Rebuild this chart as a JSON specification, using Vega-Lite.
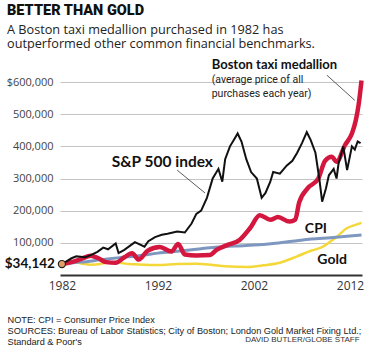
{
  "$schema": "https://vega.github.io/schema/vega-lite/v6.json",
  "width": 302,
  "height": 193,
  "autosize": {"type": "none"},
  "padding": {"left": 60, "top": 82, "right": 9, "bottom": 80},
  "background": "white",
  "config": {"view": {"stroke": null}, "axis": {"labelOverlap": false}},
  "title": {
    "text": "BETTER THAN GOLD",
    "subtitle": ["A Boston taxi medallion purchased in 1982 has", "outperformed other common financial benchmarks."],
    "anchor": "start",
    "frame": "group",
    "dx": -53,
    "offset": 8,
    "font": "Roboto",
    "fontSize": 14.5,
    "fontWeight": 900,
    "color": "#111",
    "subtitleFont": "Open Sans",
    "subtitleFontSize": 12.7,
    "subtitleColor": "#222",
    "subtitlePadding": 5,
    "subtitleLineHeight": 14
  },
  "datasets": {
    "series": [
      {"series": "Gold", "year": 1982, "value": 34142},
      {"series": "Gold", "year": 1983, "value": 42000},
      {"series": "Gold", "year": 1984, "value": 36000},
      {"series": "Gold", "year": 1985, "value": 32000},
      {"series": "Gold", "year": 1986, "value": 34000},
      {"series": "Gold", "year": 1987, "value": 40000},
      {"series": "Gold", "year": 1988, "value": 38000},
      {"series": "Gold", "year": 1989, "value": 34000},
      {"series": "Gold", "year": 1990, "value": 33000},
      {"series": "Gold", "year": 1992, "value": 31000},
      {"series": "Gold", "year": 1994, "value": 34000},
      {"series": "Gold", "year": 1996, "value": 35000},
      {"series": "Gold", "year": 1997.7, "value": 31000},
      {"series": "Gold", "year": 1999, "value": 27000},
      {"series": "Gold", "year": 2001.3, "value": 25000},
      {"series": "Gold", "year": 2003, "value": 30000},
      {"series": "Gold", "year": 2004.7, "value": 38000},
      {"series": "Gold", "year": 2006.5, "value": 58000},
      {"series": "Gold", "year": 2008, "value": 76000},
      {"series": "Gold", "year": 2008.9, "value": 84000},
      {"series": "Gold", "year": 2010, "value": 105000},
      {"series": "Gold", "year": 2010.6, "value": 118000},
      {"series": "Gold", "year": 2011.7, "value": 146000},
      {"series": "Gold", "year": 2012.5, "value": 155000},
      {"series": "Gold", "year": 2013.2, "value": 162000},
      {"series": "CPI", "year": 1982, "value": 34142},
      {"series": "CPI", "year": 1984, "value": 40000},
      {"series": "CPI", "year": 1986, "value": 47000},
      {"series": "CPI", "year": 1988, "value": 54000},
      {"series": "CPI", "year": 1990, "value": 60000},
      {"series": "CPI", "year": 1992, "value": 68000},
      {"series": "CPI", "year": 1994, "value": 74000},
      {"series": "CPI", "year": 1996, "value": 80000},
      {"series": "CPI", "year": 1998, "value": 86000},
      {"series": "CPI", "year": 2000, "value": 90000},
      {"series": "CPI", "year": 2002, "value": 93000},
      {"series": "CPI", "year": 2004, "value": 98000},
      {"series": "CPI", "year": 2006, "value": 105000},
      {"series": "CPI", "year": 2008, "value": 112000},
      {"series": "CPI", "year": 2010, "value": 116000},
      {"series": "CPI", "year": 2012, "value": 121000},
      {"series": "CPI", "year": 2013.2, "value": 124000},
      {"series": "Medallion", "year": 1982, "value": 34142},
      {"series": "Medallion", "year": 1983, "value": 40000},
      {"series": "Medallion", "year": 1984, "value": 50000},
      {"series": "Medallion", "year": 1985, "value": 60000},
      {"series": "Medallion", "year": 1985.8, "value": 52000},
      {"series": "Medallion", "year": 1986.6, "value": 40000},
      {"series": "Medallion", "year": 1987.6, "value": 38000},
      {"series": "Medallion", "year": 1988.5, "value": 55000},
      {"series": "Medallion", "year": 1989.3, "value": 68000},
      {"series": "Medallion", "year": 1990, "value": 48000},
      {"series": "Medallion", "year": 1990.9, "value": 75000},
      {"series": "Medallion", "year": 1992.2, "value": 87000},
      {"series": "Medallion", "year": 1993.4, "value": 73000},
      {"series": "Medallion", "year": 1994.1, "value": 96000},
      {"series": "Medallion", "year": 1994.8, "value": 64000},
      {"series": "Medallion", "year": 1996, "value": 61000},
      {"series": "Medallion", "year": 1997.4, "value": 62000},
      {"series": "Medallion", "year": 1998.1, "value": 78000},
      {"series": "Medallion", "year": 1999.2, "value": 93000},
      {"series": "Medallion", "year": 2000.5, "value": 109000},
      {"series": "Medallion", "year": 2001.6, "value": 146000},
      {"series": "Medallion", "year": 2002.6, "value": 186000},
      {"series": "Medallion", "year": 2003.7, "value": 172000},
      {"series": "Medallion", "year": 2004.5, "value": 180000},
      {"series": "Medallion", "year": 2005.7, "value": 166000},
      {"series": "Medallion", "year": 2006.3, "value": 172000},
      {"series": "Medallion", "year": 2006.7, "value": 225000},
      {"series": "Medallion", "year": 2007.6, "value": 270000},
      {"series": "Medallion", "year": 2008.7, "value": 300000},
      {"series": "Medallion", "year": 2009.4, "value": 355000},
      {"series": "Medallion", "year": 2010.1, "value": 368000},
      {"series": "Medallion", "year": 2010.6, "value": 352000},
      {"series": "Medallion", "year": 2011.5, "value": 405000},
      {"series": "Medallion", "year": 2012.2, "value": 440000},
      {"series": "Medallion", "year": 2012.6, "value": 480000},
      {"series": "Medallion", "year": 2012.9, "value": 530000},
      {"series": "Medallion", "year": 2013.2, "value": 605000},
      {"series": "S&P 500", "year": 1982, "value": 34142},
      {"series": "S&P 500", "year": 1982.6, "value": 45000},
      {"series": "S&P 500", "year": 1983, "value": 52000},
      {"series": "S&P 500", "year": 1983.5, "value": 58000},
      {"series": "S&P 500", "year": 1984.4, "value": 55000},
      {"series": "S&P 500", "year": 1985, "value": 62000},
      {"series": "S&P 500", "year": 1985.7, "value": 72000},
      {"series": "S&P 500", "year": 1986.3, "value": 85000},
      {"series": "S&P 500", "year": 1986.8, "value": 80000},
      {"series": "S&P 500", "year": 1987.6, "value": 98000},
      {"series": "S&P 500", "year": 1987.9, "value": 68000},
      {"series": "S&P 500", "year": 1988.5, "value": 78000},
      {"series": "S&P 500", "year": 1989.6, "value": 102000},
      {"series": "S&P 500", "year": 1990.6, "value": 88000},
      {"series": "S&P 500", "year": 1991, "value": 105000},
      {"series": "S&P 500", "year": 1991.7, "value": 118000},
      {"series": "S&P 500", "year": 1992.4, "value": 125000},
      {"series": "S&P 500", "year": 1993, "value": 128000},
      {"series": "S&P 500", "year": 1994, "value": 135000},
      {"series": "S&P 500", "year": 1994.8, "value": 132000},
      {"series": "S&P 500", "year": 1995.5, "value": 160000},
      {"series": "S&P 500", "year": 1996, "value": 190000},
      {"series": "S&P 500", "year": 1996.5, "value": 200000},
      {"series": "S&P 500", "year": 1997.1, "value": 240000},
      {"series": "S&P 500", "year": 1997.7, "value": 300000},
      {"series": "S&P 500", "year": 1998.3, "value": 330000},
      {"series": "S&P 500", "year": 1998.7, "value": 290000},
      {"series": "S&P 500", "year": 1999, "value": 360000},
      {"series": "S&P 500", "year": 1999.5, "value": 400000},
      {"series": "S&P 500", "year": 1999.9, "value": 420000},
      {"series": "S&P 500", "year": 2000.3, "value": 440000},
      {"series": "S&P 500", "year": 2000.7, "value": 415000},
      {"series": "S&P 500", "year": 2001.2, "value": 360000},
      {"series": "S&P 500", "year": 2001.7, "value": 320000},
      {"series": "S&P 500", "year": 2002.3, "value": 300000},
      {"series": "S&P 500", "year": 2002.8, "value": 240000},
      {"series": "S&P 500", "year": 2003.2, "value": 255000},
      {"series": "S&P 500", "year": 2003.7, "value": 290000},
      {"series": "S&P 500", "year": 2004, "value": 320000},
      {"series": "S&P 500", "year": 2004.7, "value": 315000},
      {"series": "S&P 500", "year": 2005.4, "value": 340000},
      {"series": "S&P 500", "year": 2006, "value": 355000},
      {"series": "S&P 500", "year": 2006.5, "value": 380000},
      {"series": "S&P 500", "year": 2007, "value": 410000},
      {"series": "S&P 500", "year": 2007.5, "value": 444000},
      {"series": "S&P 500", "year": 2007.9, "value": 420000},
      {"series": "S&P 500", "year": 2008.4, "value": 380000},
      {"series": "S&P 500", "year": 2008.8, "value": 300000},
      {"series": "S&P 500", "year": 2009.1, "value": 228000},
      {"series": "S&P 500", "year": 2009.5, "value": 270000},
      {"series": "S&P 500", "year": 2009.8, "value": 310000},
      {"series": "S&P 500", "year": 2010.3, "value": 330000},
      {"series": "S&P 500", "year": 2010.6, "value": 300000},
      {"series": "S&P 500", "year": 2010.8, "value": 345000},
      {"series": "S&P 500", "year": 2011.3, "value": 400000},
      {"series": "S&P 500", "year": 2011.7, "value": 326000},
      {"series": "S&P 500", "year": 2012.2, "value": 400000},
      {"series": "S&P 500", "year": 2012.5, "value": 390000},
      {"series": "S&P 500", "year": 2012.8, "value": 415000},
      {"series": "S&P 500", "year": 2013.1, "value": 410000}
    ],
    "bigLabels": [
      {"label": "S&P 500 index", "year": 1987.2, "value": 351000},
      {"label": "CPI", "year": 2007.3, "value": 143000},
      {"label": "Gold", "year": 2008.6, "value": 47000}
    ],
    "boldLabels": [
      {"label": "Boston taxi medallion", "year": 1997.6, "value": 652000}
    ],
    "noteLabels": [
      {"label": "(average price of all", "year": 1997.6, "value": 606000},
      {"label": "purchases each year)", "year": 1997.6, "value": 562000}
    ],
    "leaders": [
      {"year": 1994.0, "value": 326000, "year2": 1996.9, "value2": 255000},
      {"year": 2009.6, "value": 621000, "year2": 2012.5, "value2": 543000}
    ],
    "start": [
      {"label": "$34,142", "year": 1982, "value": 34142}
    ],
    "credit": [
      {"label": "DAVID BUTLER/GLOBE STAFF", "year": 2013.0, "value": -202000}
    ]
  },
  "encoding": {
    "x": {
      "field": "year", "type": "quantitative",
      "scale": {"domain": [1981.8, 2013.25], "nice": false, "zero": false},
      "axis": {
        "values": [1982, 1992, 2002, 2012],
        "format": "d",
        "ticks": false,
        "grid": false,
        "domainColor": "#333",
        "domainWidth": 2,
        "labelFont": "Open Sans",
        "labelFontSize": 12,
        "labelColor": "#333",
        "labelPadding": 5,
        "title": ["NOTE: CPI = Consumer Price Index", "SOURCES: Bureau of Labor Statistics; City of Boston; London Gold Market Fixing Ltd.;", "Standard & Poor's"],
        "titleFont": "Liberation Sans",
        "titleFontSize": 9.2,
        "titleFontWeight": "normal",
        "titleColor": "#222",
        "titleAnchor": "start",
        "titleAlign": "left",
        "titleBaseline": "top",
        "titleX": -53,
        "titleY": 40,
        "titleLineHeight": 11
      }
    },
    "y": {
      "field": "value", "type": "quantitative",
      "scale": {"domain": [0, 600000], "nice": false},
      "axis": {
        "values": [100000, 200000, 300000, 400000, 500000, 600000],
        "labelExpr": "datum.value == 600000 ? '$600,000' : format(datum.value, ',')",
        "labelOverlap": false,
        "ticks": false,
        "domain": false,
        "grid": true,
        "gridColor": "#c4c4c4",
        "gridWidth": 1,
        "labelFont": "Open Sans",
        "labelFontSize": 11,
        "labelColor": "#444",
        "labelPadding": 7,
        "title": null
      }
    }
  },
  "layer": [
    {
      "data": {"name": "series"},
      "transform": [{"filter": "datum.series == 'Gold'"}],
      "mark": {"type": "line", "color": "#f4d83a", "strokeWidth": 2.5, "interpolate": "monotone"}
    },
    {
      "data": {"name": "series"},
      "transform": [{"filter": "datum.series == 'CPI'"}],
      "mark": {"type": "line", "color": "#7e97c0", "strokeWidth": 3, "interpolate": "monotone"}
    },
    {
      "data": {"name": "series"},
      "transform": [{"filter": "datum.series == 'Medallion'"}],
      "mark": {"type": "line", "color": "#d3173f", "strokeWidth": 4.5, "interpolate": "monotone"}
    },
    {
      "data": {"name": "series"},
      "transform": [{"filter": "datum.series == 'S&P 500'"}],
      "mark": {"type": "line", "color": "#111", "strokeWidth": 2}
    },
    {
      "data": {"name": "leaders"},
      "mark": {"type": "rule", "color": "#333", "strokeWidth": 0.8},
      "encoding": {
        "x2": {"field": "year2"},
        "y2": {"field": "value2"}
      }
    },
    {
      "data": {"name": "start"},
      "mark": {"type": "point", "shape": "circle", "filled": true, "size": 50, "fill": "#e3a064", "stroke": "#222", "strokeWidth": 1.2, "opacity": 1}
    },
    {
      "data": {"name": "start"},
      "mark": {"type": "text", "align": "right", "baseline": "middle", "dx": -7, "font": "Lato", "fontWeight": "bold", "fontSize": 13.5, "color": "#111"},
      "encoding": {
        "text": {"field": "label"}
      }
    },
    {
      "data": {"name": "bigLabels"},
      "mark": {"type": "text", "align": "left", "baseline": "middle", "font": "Lato", "fontWeight": "bold", "fontSize": 14, "color": "#111"},
      "encoding": {
        "text": {"field": "label"},
        "size": {"condition": {"test": "datum.label == 'S&P 500 index'", "value": 15.5}, "value": 14}
      }
    },
    {
      "data": {"name": "boldLabels"},
      "mark": {"type": "text", "align": "left", "baseline": "middle", "font": "Lato", "fontWeight": "bold", "fontSize": 13, "color": "#111"},
      "encoding": {
        "text": {"field": "label"}
      }
    },
    {
      "data": {"name": "noteLabels"},
      "mark": {"type": "text", "align": "left", "baseline": "middle", "font": "Roboto", "fontSize": 10.5, "color": "#222"},
      "encoding": {
        "text": {"field": "label"}
      }
    },
    {
      "data": {"name": "credit"},
      "mark": {"type": "text", "align": "right", "baseline": "middle", "font": "Liberation Sans", "fontSize": 8, "color": "#333"},
      "encoding": {
        "text": {"field": "label"}
      }
    }
  ]
}
